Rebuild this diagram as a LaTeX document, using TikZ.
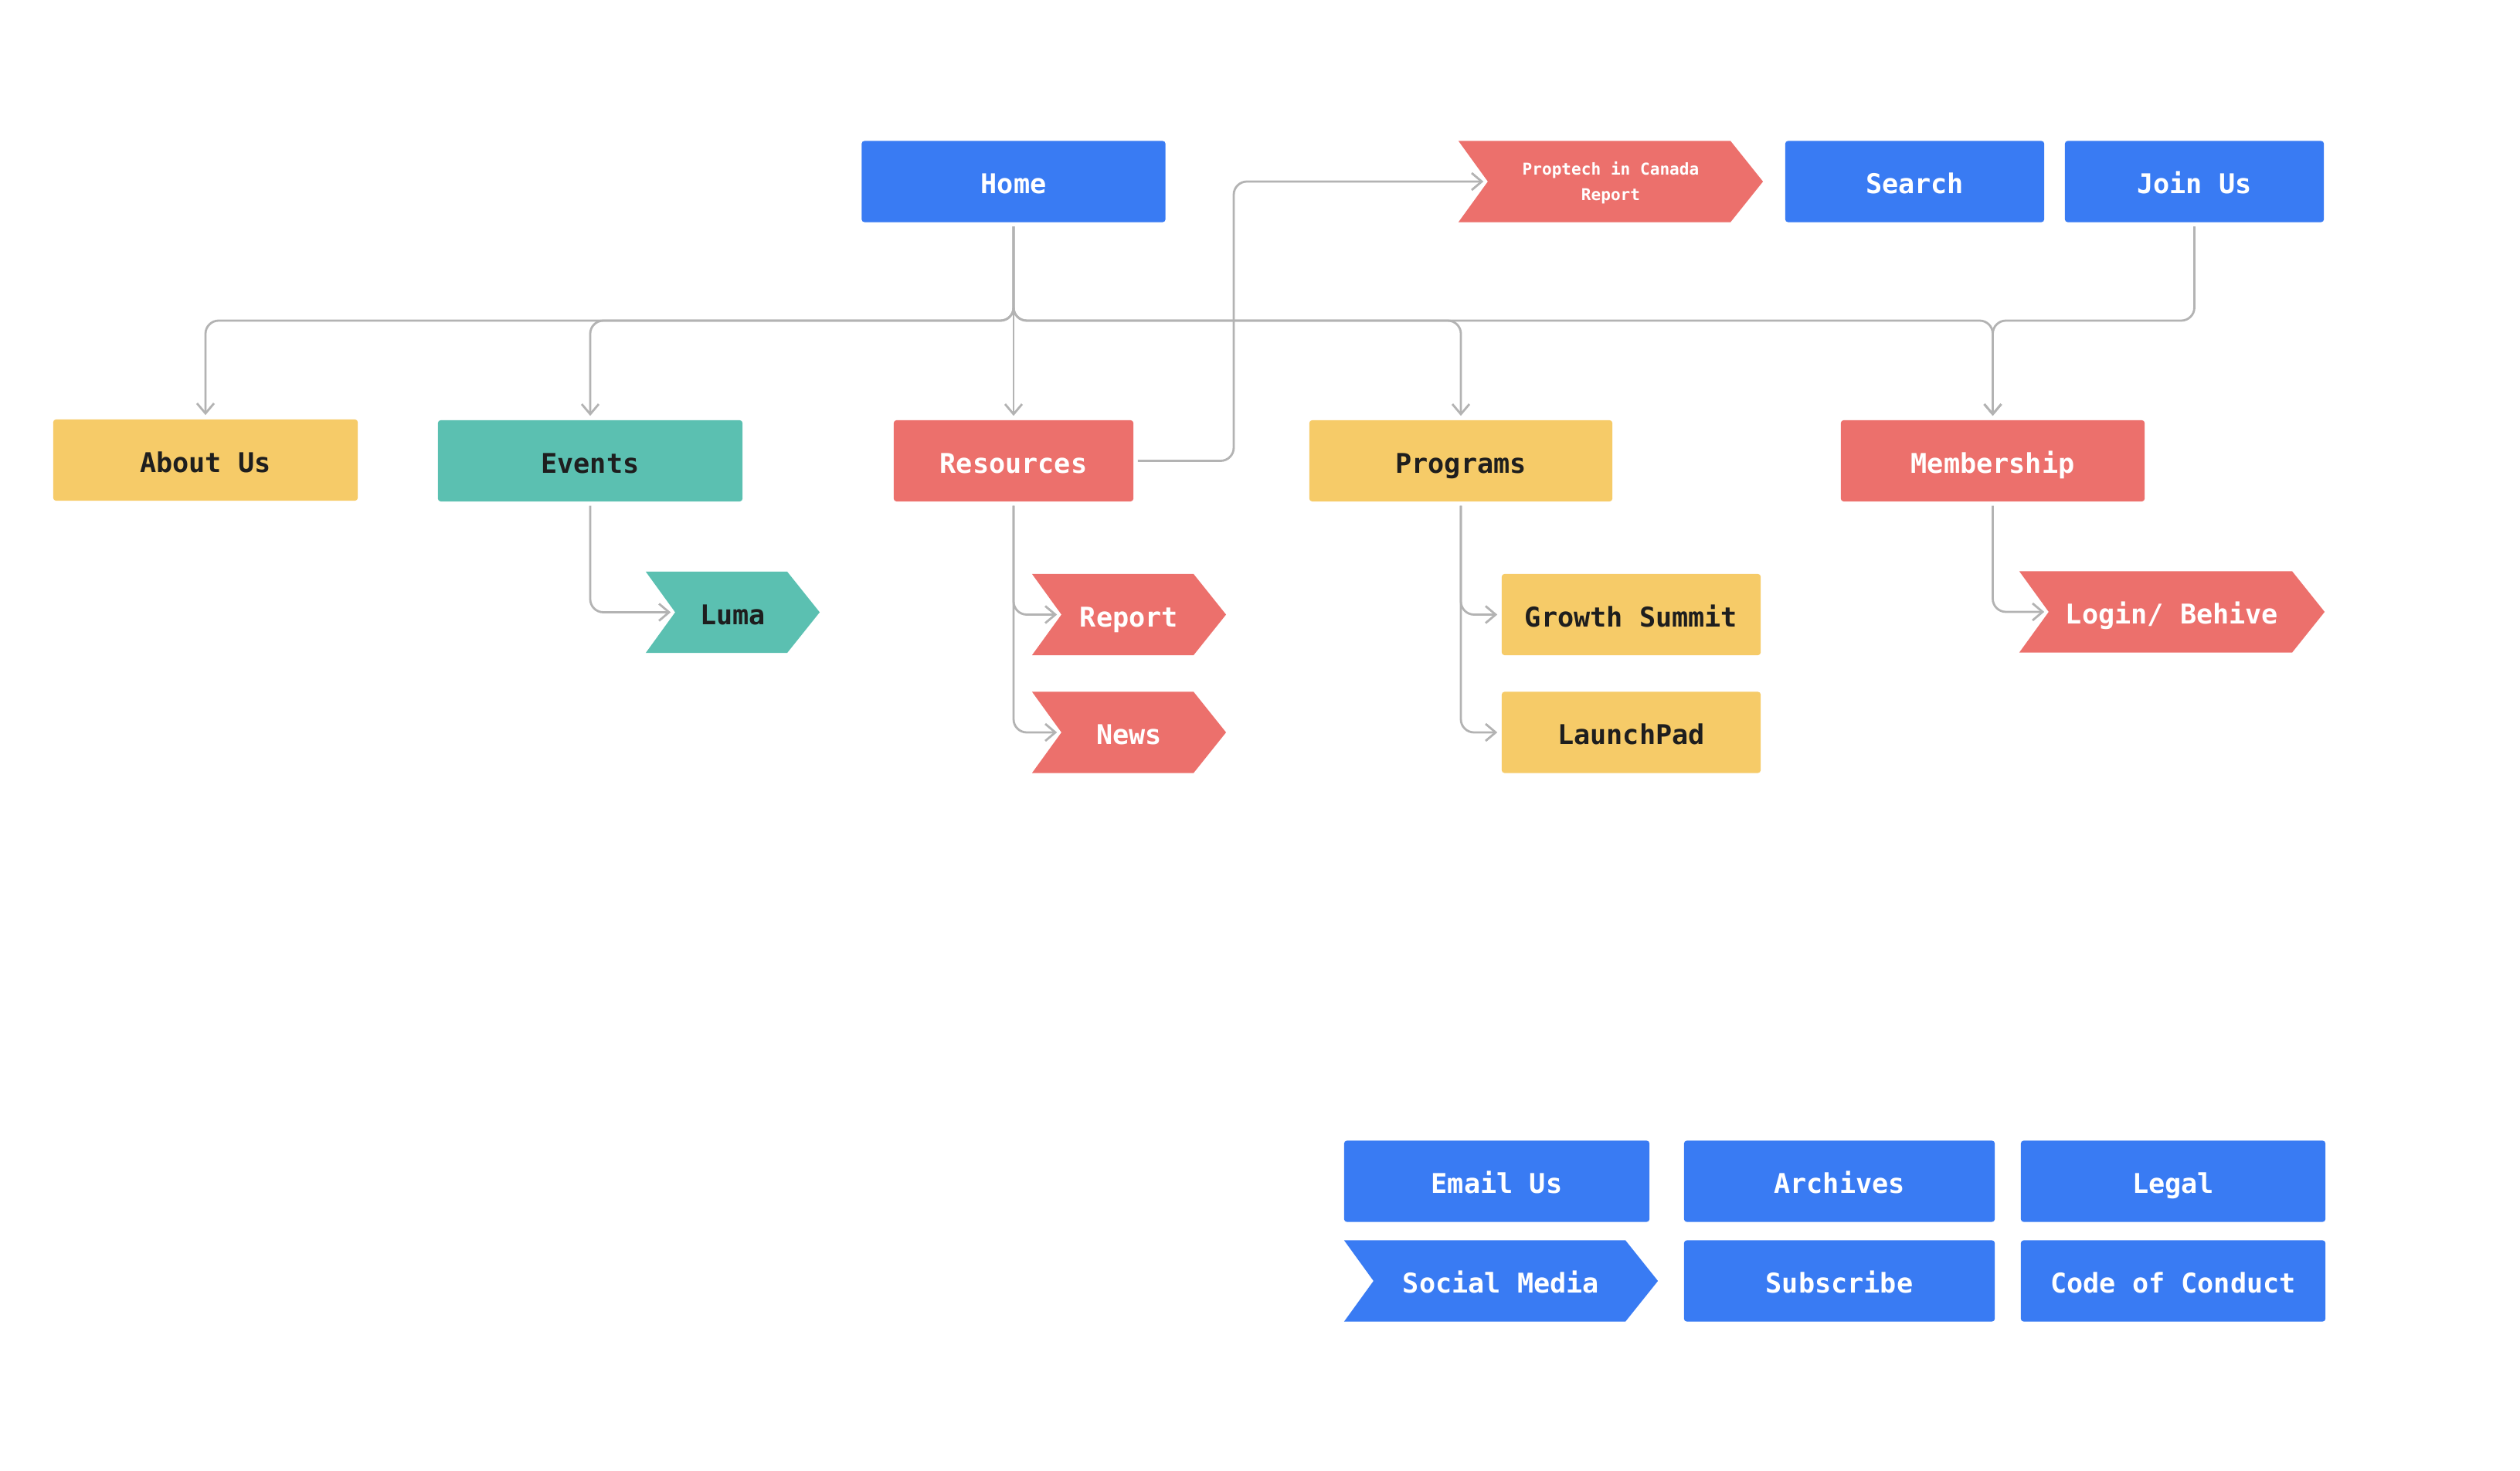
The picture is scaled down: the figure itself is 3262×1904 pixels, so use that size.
\documentclass[tikz,border=0pt]{standalone}
\usepackage{fontspec}
\newfontfamily\monofont{DejaVu Sans Mono}
\usetikzlibrary{arrows.meta}
\definecolor{cblue}{HTML}{397BF3}
\definecolor{cred}{HTML}{EC706C}
\definecolor{cyellow}{HTML}{F6CB68}
\definecolor{cteal}{HTML}{5BC0B1}
\definecolor{cline}{HTML}{B3B3B3}
\definecolor{cdark}{HTML}{1E1E1E}
\begin{document}
\begin{tikzpicture}[x=0.01cm,y=-0.01cm,
  every node/.style={font=\monofont\bfseries\fontsize{10pt}{12pt}\selectfont, inner sep=0pt, minimum height=1.05cm, text height=8.9pt, text depth=0pt},
  box/.style={rectangle, rounded corners=1pt, fill=#1},
  chev/.style={rectangle, path picture={\fill[#1] (path picture bounding box.north west) -- ([xshift=-0.42cm]path picture bounding box.north east) -- (path picture bounding box.east) -- ([xshift=-0.42cm]path picture bounding box.south east) -- (path picture bounding box.south west) -- ([xshift=0.38cm]path picture bounding box.west) -- cycle;}},
  wtext/.style={text=white},
  dtext/.style={text=cdark},
  conn/.style={draw=cline, line width=0.8pt, rounded corners=0.17cm, -{Straight Barb[length=0.13cm,width=0.22cm]}, shorten >=0.05cm, shorten <=0.05cm},
]
\path[use as bounding box] (0,0) rectangle (3262,1904);

\node[box=cblue, wtext, minimum width=3.93cm] (home) at (1312,235) {Home};
\node[chev=cred, wtext, minimum width=3.94cm, align=center, text height=, text depth=, font=\monofont\bfseries\fontsize{6pt}{9.4pt}\selectfont] (prop) at (2085,235) {\rule{0pt}{5.6pt}Proptech in Canada\\Report};
\node[box=cblue, wtext, minimum width=3.35cm] (search) at (2478.5,235) {Search};
\node[box=cblue, wtext, minimum width=3.35cm] (join) at (2840.5,235) {Join Us};
\node[box=cyellow, dtext, minimum width=3.94cm] (about) at (266,595.5) {About Us};
\node[box=cteal, dtext, minimum width=3.94cm] (events) at (764,596.5) {Events};
\node[box=cred, wtext, minimum width=3.10cm] (res) at (1312,596.5) {Resources};
\node[box=cyellow, dtext, minimum width=3.92cm] (prog) at (1891,596.5) {Programs};
\node[box=cred, wtext, minimum width=3.93cm] (memb) at (2579.5,596.5) {Membership};
\node[chev=cteal, dtext, minimum width=2.25cm] (luma) at (948.5,792.5) {Luma};
\node[chev=cred, wtext, minimum width=2.51cm] (report) at (1461.5,795.5) {Report};
\node[chev=cred, wtext, minimum width=2.51cm] (news) at (1461.5,948) {News};
\node[box=cyellow, dtext, minimum width=3.35cm] (growth) at (2111.5,795.5) {Growth Summit};
\node[box=cyellow, dtext, minimum width=3.35cm] (launch) at (2111.5,948) {LaunchPad};
\node[chev=cred, wtext, minimum width=3.95cm] (login) at (2811.5,792) {Login/ Behive};
\node[box=cblue, wtext, minimum width=3.95cm] (email) at (1937.5,1529) {Email Us};
\node[box=cblue, wtext, minimum width=4.02cm] (arch) at (2381,1529) {Archives};
\node[box=cblue, wtext, minimum width=3.94cm] (legal) at (2813,1529) {Legal};
\node[chev=cblue, wtext, minimum width=4.06cm] (social) at (1943,1658) {Social Media};
\node[box=cblue, wtext, minimum width=4.02cm] (sub) at (2381,1658) {Subscribe};
\node[box=cblue, wtext, minimum width=3.94cm] (coc) at (2813,1658) {Code of Conduct};

\coordinate (hj) at (1312,415);
\coordinate (rp) at (1597,415);
\draw[conn] (home.south) -- (hj) -| (about.north);
\draw[conn] (home.south) -- (hj) -| (events.north);
\draw[conn] (home.south) -- (res.north);
\draw[conn] (home.south) -- (hj) -| (prog.north);
\draw[conn] (home.south) -- (hj) -| (memb.north);
\draw[conn] (join.south) |- (memb.north |- hj) -- (memb.north);
\draw[conn] (res.east) -- (res.east -| rp) |- ([xshift=0.38cm]prop.west);
\draw[conn] (events.south) |- ([xshift=0.38cm]luma.west);
\draw[conn] (res.south) |- ([xshift=0.38cm]report.west);
\draw[conn] (res.south) |- ([xshift=0.38cm]news.west);
\draw[conn] (prog.south) |- (growth.west);
\draw[conn] (prog.south) |- (launch.west);
\draw[conn] (memb.south) |- ([xshift=0.38cm]login.west);
\end{tikzpicture}
\end{document}
